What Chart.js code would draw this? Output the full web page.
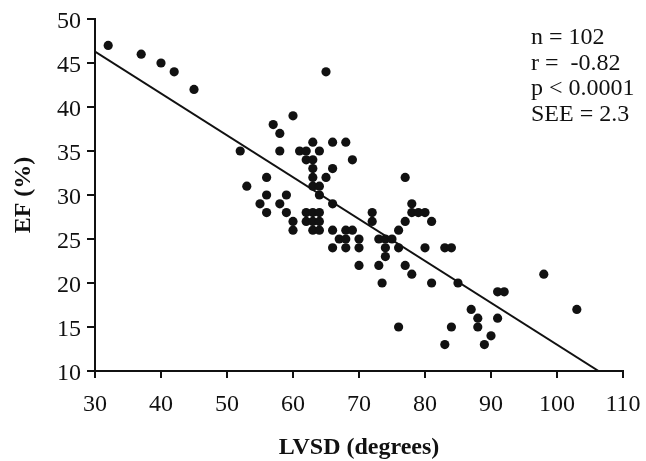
<!DOCTYPE html>
<html>
<head>
<meta charset="utf-8">
<script src="https://cdn.jsdelivr.net/npm/chart.js@4"></script>
<style>
  html, body { margin: 0; padding: 0; background: #fff; }
  #wrap { width: 646px; height: 461px; position: relative; }
</style>
</head>
<body>
<div id="wrap"><canvas id="c" width="646" height="461"></canvas></div>
<script>
// ---- data ----
const lvsd = [32,37,40,42,45,65,60,57,58,52,58,61,62,64,63,66,68,62,63,69,63,66,63,65,56,53,63,64,56,59,64,66,55,58,56,59,62,63,64,60,62,63,64,60,63,64,66,68,69,67,68,70,66,68,70,70,72,72,73,74,75,74,74,73,73.5,76,77,78,78,79,80,81,77,76,80,77,78,81,83,84,85,91,92,98,103,87,88,91,88,84,76,90,83,89];
const ef   = [47,46,45,44,42,44,39,38,37,35,35,35,35,35,36,36,36,34,34,34,33,33,32,32,32,31,31,31,30,30,30,29,29,29,28,28,28,28,28,27,27,27,27,26,26,26,26,26,26,25,25,25,24,24,24,22,28,27,25,25,25,24,23,22,20,26,27,29,28,28,28,27,32,24,24,22,21,20,24,24,20,19,19,21,17,17,16,16,15,15,15,14,13,13];
const fitX = [30, 106.3];
const fitY = [46.3, 10];
const xTicks = [30, 40, 50, 60, 70, 80, 90, 100, 110];
const yTicks = [10, 15, 20, 25, 30, 35, 40, 45, 50];
const xTitle = 'LVSD (degrees)';
const yTitle = 'EF (%)';
const statsLines = ['n = 102', 'r =  -0.82', 'p < 0.0001', 'SEE = 2.3'];

const FONT = '"Liberation Serif", "Times New Roman", Times, serif';

const statsPlugin = {
  id: 'stats',
  afterDraw(chart) {
    const {ctx, chartArea} = chart;
    ctx.save();
    ctx.font = '24px ' + FONT;
    ctx.fillStyle = '#111';
    ctx.textAlign = 'left';
    ctx.textBaseline = 'alphabetic';
    const x0 = chartArea.right - 92;
    statsLines.forEach((t, i) => {
      ctx.fillText(t, x0, chartArea.top + 25 + i * 25.7);
    });
    ctx.restore();
  }
};

new Chart(document.getElementById('c'), {
  type: 'scatter',
  data: {
    datasets: [
      {
        type: 'line',
        data: fitX.map((x, i) => ({x, y: fitY[i]})),
        borderColor: '#111',
        borderWidth: 2,
        pointRadius: 0,
        fill: false,
        tension: 0
      },
      {
        data: lvsd.map((x, i) => ({x, y: ef[i]})),
        backgroundColor: '#111',
        borderWidth: 0,
        pointRadius: 4.6,
        pointHoverRadius: 4.6
      }
    ]
  },
  options: {
    responsive: false,
    animation: false,
    devicePixelRatio: 1,
    layout: { padding: { top: 19, right: 23, bottom: 0, left: 0 } },
    plugins: { legend: { display: false }, tooltip: { enabled: false } },
    scales: {
      x: {
        type: 'linear',
        min: xTicks[0],
        max: xTicks[xTicks.length - 1],
        afterBuildTicks: s => { s.ticks = xTicks.map(v => ({value: v})); },
        afterFit: s => { s.height = 90; s.paddingLeft = 0; s.paddingRight = 0; },
        grid: { drawOnChartArea: false, drawTicks: true, tickLength: 7, color: '#111', lineWidth: 2 },
        border: { display: true, color: '#111', width: 2 },
        ticks: { color: '#111', padding: 12, font: { family: FONT, size: 24, lineHeight: 1.2 } },
        title: { display: true, text: xTitle, color: '#111', padding: { top: 0, bottom: 0 },
                 font: { family: FONT, size: 24, weight: 'bold', lineHeight: 1.1 } }
      },
      y: {
        type: 'linear',
        min: yTicks[0],
        max: yTicks[yTicks.length - 1],
        afterBuildTicks: s => { s.ticks = yTicks.map(v => ({value: v})); },
        afterFit: s => { s.width = 95; s.paddingTop = 0; s.paddingBottom = 0; },
        grid: { drawOnChartArea: false, drawTicks: true, tickLength: 8, color: '#111', lineWidth: 2 },
        border: { display: true, color: '#111', width: 2 },
        ticks: { color: '#111', padding: 6, labelOffset: 3, font: { family: FONT, size: 24, lineHeight: 1.2 } },
        title: { display: true, text: yTitle, color: '#111', padding: { top: 11, bottom: 0 },
                 font: { family: FONT, size: 24, weight: 'bold', lineHeight: 1.1 } }
      }
    }
  },
  plugins: [statsPlugin]
});
</script>
</body>
</html>
